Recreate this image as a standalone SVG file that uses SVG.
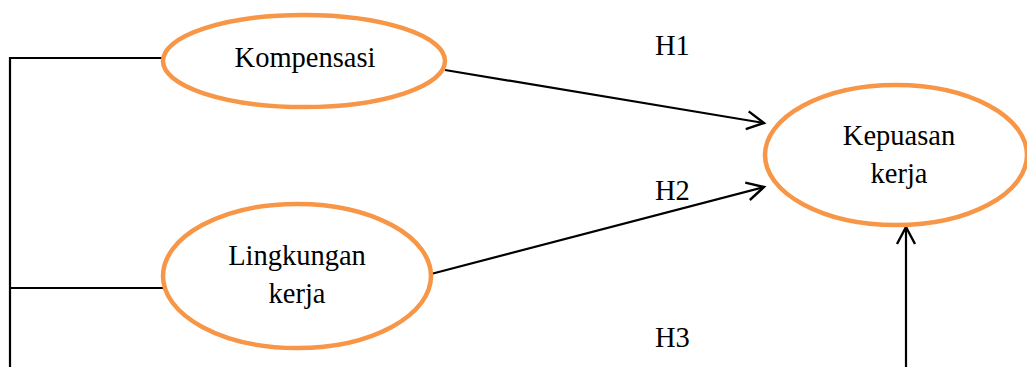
<svg xmlns="http://www.w3.org/2000/svg" width="1027" height="367" viewBox="0 0 1027 367">
  <style>
    .node { fill: #FFFFFF; stroke: #F79646; stroke-width: 4.5; }
    .label { font-family: "Liberation Serif", "Times New Roman", serif; font-size: 28.5px; fill: #000000; text-anchor: middle; }
    .hyp { font-family: "Liberation Serif", "Times New Roman", serif; font-size: 28.5px; fill: #000000; }
    .link { fill: none; stroke: #000000; stroke-width: 2.2; }
  </style>
  <defs>
    <marker id="arrow" markerUnits="userSpaceOnUse" markerWidth="24" markerHeight="24" viewBox="-20 -12 24 24" refX="0" refY="0" orient="auto">
      <path d="M -17 -9 L 0 0 L -17 9" fill="none" stroke="#000000" stroke-width="2.4"/>
    </marker>
  </defs>

  <!-- connectors -->
  <g id="connectors">
    <!-- bracket joining the two independent variables -->
    <path class="link" d="M 163 58 L 10 58 L 10 367"/>
    <path class="link" d="M 163 288 L 10 288"/>
    <!-- H1 -->
    <line class="link" x1="445" y1="70" x2="764" y2="123" marker-end="url(#arrow)"/>
    <!-- H2 -->
    <line class="link" x1="431" y1="274" x2="764" y2="187" marker-end="url(#arrow)"/>
    <!-- H3 -->
    <line class="link" x1="906" y1="367" x2="906" y2="227" marker-end="url(#arrow)"/>
  </g>

  <g id="labels">
    <text class="hyp" x="655" y="55">H1</text>
    <text class="hyp" x="655" y="200">H2</text>
    <text class="hyp" x="655" y="347">H3</text>
  </g>

  <g id="kompensasi">
    <ellipse class="node" cx="304" cy="61" rx="141" ry="46"/>
    <text class="label" x="305" y="67">Kompensasi</text>
  </g>

  <g id="lingkungan-kerja">
    <ellipse class="node" cx="297" cy="276" rx="134" ry="72"/>
    <text class="label" x="297" y="265">Lingkungan</text>
    <text class="label" x="297" y="303">kerja</text>
  </g>

  <g id="kepuasan-kerja">
    <ellipse class="node" cx="896" cy="155" rx="131" ry="70"/>
    <text class="label" x="899" y="145">Kepuasan</text>
    <text class="label" x="899" y="183">kerja</text>
  </g>
</svg>
